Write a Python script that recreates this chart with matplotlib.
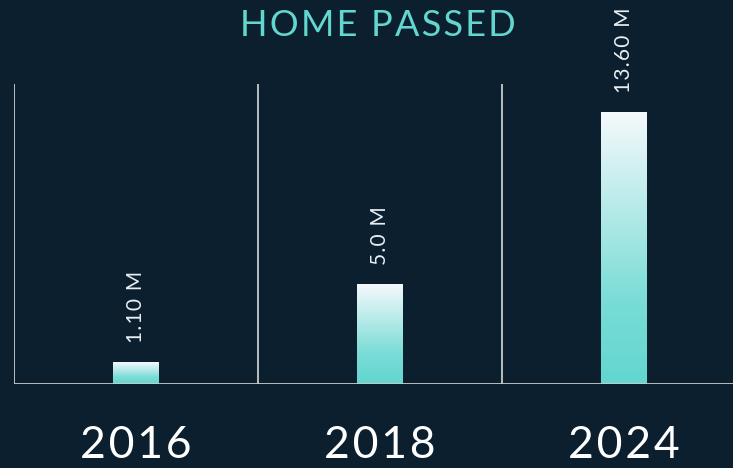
import numpy as np
import matplotlib
matplotlib.use("Agg")
import matplotlib.pyplot as plt
import matplotlib.transforms as mtransforms
from matplotlib.colors import LinearSegmentedColormap

years = ["2016", "2018", "2024"]
values = [1.10, 5.0, 13.60]
value_labels = ["1.10 M", "5.0 M", "13.60 M"]
title = "HOME PASSED"

BG = "#0b1f2e"
TEAL = "#62d6cf"
FAM = ["Lato", "DejaVu Sans"]
W, H = 733, 468
fig = plt.figure(figsize=(W / 100, H / 100), dpi=100, facecolor=BG)

def spaced(s, sep="\u200a"):
    return sep.join(s)

left, right = 14 / W, 1.0
bottom, top = 1 - 384 / H, 1 - 84 / H
ax = fig.add_axes([left, bottom, right - left, top - bottom], facecolor=BG)

cmap = LinearSegmentedColormap.from_list("g", [(0, TEAL), (0.3, "#79dcd6"), (1, "#f5f9fc")])
x = np.arange(len(years))
bars = ax.bar(x, values, width=46 / 244, color="none", edgecolor="none")
grad = np.linspace(0, 1, 256).reshape(-1, 1)
for b in bars:
    x0, y0 = b.get_x(), b.get_y()
    w, h = b.get_width(), b.get_height()
    im = ax.imshow(grad, cmap=cmap, aspect="auto", origin="lower",
                   extent=[x0, x0 + w, y0, y0 + h], zorder=2, interpolation="bilinear")
    im.set_clip_path(b)

ax.set_xlim(-0.5, (W - 14) / 244 - 0.5)
ax.set_ylim(0, 15)

for i, (v, lab) in enumerate(zip(values, value_labels)):
    ax.text(i, v + 0.95, spaced(lab), rotation=90, ha="center", va="bottom",
            color="#e8eef2", fontsize=15, family=FAM)

for xi in [-0.5, 0.5, 1.5]:
    ax.axvline(xi, color="#c8cbcd", lw=1.3, zorder=1)
ax.axhline(0, color="#c8cbcd", lw=2, zorder=3)

for s in ax.spines.values():
    s.set_visible(False)
ax.set_xticks([])
ax.set_yticks([])

trans = mtransforms.blended_transform_factory(ax.transData, fig.transFigure)
for i, yr in enumerate(years):
    fig.text(i, 0.004, spaced(yr), transform=trans, ha="center", va="bottom",
             color="white", fontsize=32, family=FAM)

fig.text(378 / W, 1 - 25 / H, spaced(title), ha="center", va="center", color=TEAL,
         fontsize=26, family=FAM)

fig.savefig("out.png", dpi=100, facecolor=BG)
